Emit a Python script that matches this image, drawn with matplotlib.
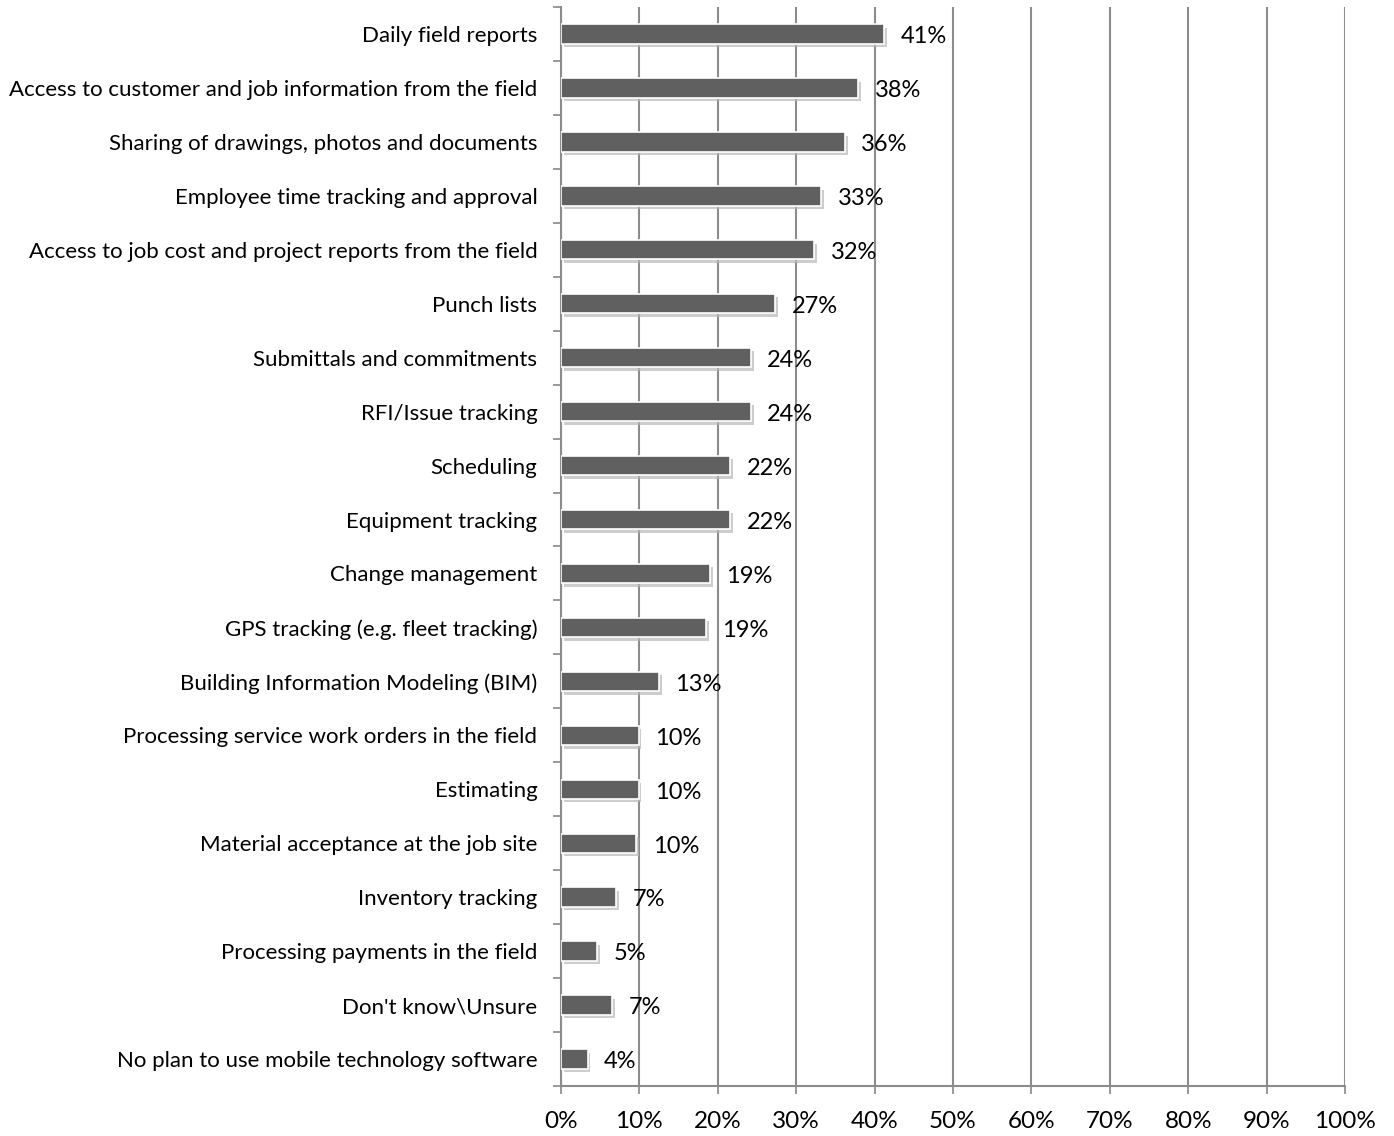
#Mobile technology usage - horizontal bar chart
import matplotlib
matplotlib.use("Agg")
import matplotlib.pyplot as plt
import matplotlib.patheffects as pe
import matplotlib.transforms as mtransforms
import numpy as np

#category labels, top to bottom
categories = [
    "Daily field reports",
    "Access to customer and job information from the field",
    "Sharing of drawings, photos and documents",
    "Employee time tracking and approval",
    "Access to job cost and project reports from the field",
    "Punch lists",
    "Submittals and commitments",
    "RFI/Issue tracking",
    "Scheduling",
    "Equipment tracking",
    "Change management",
    "GPS tracking (e.g. fleet tracking)",
    "Building Information Modeling (BIM)",
    "Processing service work orders in the field",
    "Estimating",
    "Material acceptance at the job site",
    "Inventory tracking",
    "Processing payments in the field",
    "Don't know\\Unsure",
    "No plan to use mobile technology software",
]
#bar lengths (percent)
values = [41.2, 37.9, 36.2, 33.2, 32.3, 27.3, 24.2, 24.2, 21.6, 21.6,
          19.0, 18.5, 12.5, 9.9, 9.9, 9.6, 7.0, 4.6, 6.5, 3.4]
#data labels as printed on the chart
value_labels = ["41%", "38%", "36%", "33%", "32%", "27%", "24%", "24%", "22%", "22%",
                "19%", "19%", "13%", "10%", "10%", "10%", "7%", "5%", "7%", "4%"]
x_ticks = list(range(0, 101, 10))
x_tick_labels = [f"{t}%" for t in x_ticks]

plt.rcParams['font.family'] = ['Lato', 'DejaVu Sans']

fig = plt.figure(figsize=(13.94, 11.36), dpi=100)
ax = fig.add_axes([561/1394, 1 - 1086/1136, 784/1394, 1079/1136])

n = len(categories)
y = np.arange(n)
bars = ax.barh(y, values, height=0.36, color='#606060', edgecolor='white', linewidth=1.2,
               zorder=3)
for b in bars:
    b.set_path_effects([pe.SimplePatchShadow(offset=(2, -2.5), shadow_rgbFace='#b8b8b8',
                                             alpha=0.7), pe.Normal()])

#data labels right of each bar, nudged down a little like the original
shift = mtransforms.ScaledTranslation(0, -2/72, fig.dpi_scale_trans)
for yi, v, lab in zip(y, values, value_labels):
    ax.text(v + 2.1, yi, lab, va='center', ha='left', fontsize=17, color='black',
            zorder=4, transform=ax.transData + shift)

ax.set_ylim(n - 0.5, -0.5)
ax.set_xlim(0, 100)
ax.set_yticks(y)
ax.set_yticklabels(categories, fontsize=16)
ax.set_yticks(np.arange(-0.5, n, 1), minor=True)
ax.tick_params(axis='y', which='major', length=0, pad=17)
ax.tick_params(axis='y', which='minor', length=6, color='#888888', width=1.2)
ax.set_xticks(x_ticks)
ax.set_xticklabels(x_tick_labels, fontsize=17.5)
ax.tick_params(axis='x', which='major', length=6, color='#888888', width=1.2, pad=12)

ax.grid(axis='x', color='#8c8c8c', linewidth=1.5, zorder=0)
ax.set_axisbelow(True)
for side in ['top', 'right']:
    ax.spines[side].set_visible(False)
for side in ['left', 'bottom']:
    ax.spines[side].set_color('#8c8c8c')
    ax.spines[side].set_linewidth(1.5)

plt.savefig('out.png', dpi=100)
plt.close()
